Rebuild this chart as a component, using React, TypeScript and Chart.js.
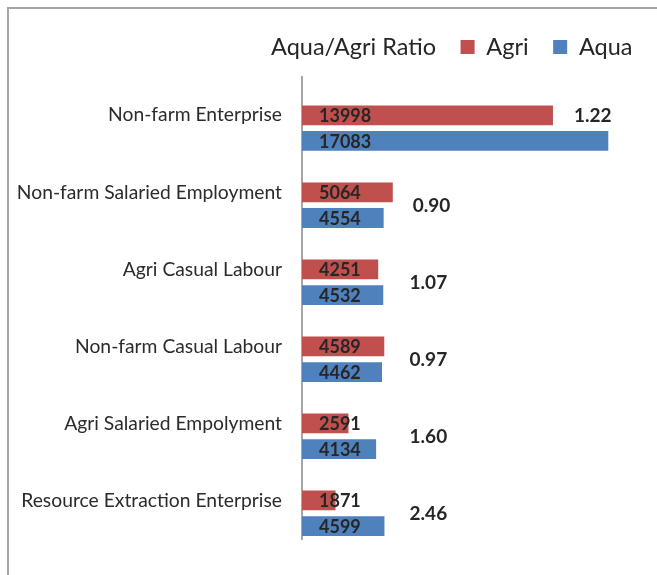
import React, { useEffect, useRef } from "react";
import { Chart, registerables } from "chart.js";

Chart.register(...registerables);

const categories = [
  "Non-farm Enterprise",
  "Non-farm Salaried Employment",
  "Agri Casual Labour",
  "Non-farm Casual Labour",
  "Agri Salaried Empolyment",
  "Resource Extraction Enterprise",
];
const seriesNames = ["Aqua/Agri Ratio", "Agri", "Aqua"];
const agriValues = [13998, 5064, 4251, 4589, 2591, 1871];
const aquaValues = [17083, 4554, 4532, 4462, 4134, 4599];
const ratioValues = [1.22, 0.9, 1.07, 0.97, 1.6, 2.46];

const FONT = "Lato, 'Open Sans', sans-serif";

const labelPlugin = {
  id: "barLabels",
  afterDatasetsDraw(chart: any) {
    const ctx = chart.ctx;
    const xScale = chart.scales.x;
    const area = chart.chartArea;
    const agriMeta = chart.getDatasetMeta(1);
    const aquaMeta = chart.getDatasetMeta(2);
    const x0 = xScale.getPixelForValue(0);
    const minLabelX = xScale.getPixelForValue(6000);
    ctx.save();
    ctx.fillStyle = "#262626";
    ctx.textBaseline = "middle";
    ctx.textAlign = "left";
    categories.forEach((_, i) => {
      const a = agriMeta.data[i];
      const q = aquaMeta.data[i];
      ctx.font = `bold 18px ${FONT}`;
      ctx.fillText(String(agriValues[i]), x0 + 17, a.y + 1);
      ctx.fillText(String(aquaValues[i]), x0 + 17, q.y + 1);
      ctx.font = `bold 19px ${FONT}`;
      const txt = ratioValues[i].toFixed(2);
      const w = ctx.measureText(txt).width;
      let x = Math.max(Math.max(a.x, q.x) + 20, minLabelX);
      let y = (a.y + q.y) / 2;
      if (x + w > area.right - 10) {
        x = a.x + 21;
        y = a.y;
      }
      ctx.fillText(txt, x, y + 1);
    });
    ctx.restore();
  },
};

export default function App() {
  const ref = useRef<HTMLCanvasElement | null>(null);
  useEffect(() => {
    document.body.style.overflow = "hidden";
    document.documentElement.style.overflow = "hidden";
    const chart = new Chart(ref.current as HTMLCanvasElement, {
      type: "bar",
      data: {
        labels: categories,
        datasets: [
          {
            label: seriesNames[0],
            data: ratioValues,
            backgroundColor: "rgba(0,0,0,0)",
            borderColor: "rgba(0,0,0,0)",
            borderWidth: 0,
          },
          {
            label: seriesNames[1],
            data: agriValues,
            backgroundColor: "#C0504D",
            borderWidth: 0,
          },
          {
            label: seriesNames[2],
            data: aquaValues,
            backgroundColor: "#4F81BD",
            borderWidth: 0,
          },
        ],
      },
      options: {
        indexAxis: "y",
        responsive: false,
        animation: false,
        layout: { padding: { top: 10.75, right: 0, left: 0, bottom: 36 } },
        datasets: { bar: { categoryPercentage: 1, barPercentage: 0.77 } } as any,
        scales: {
          x: {
            position: "top",
            display: true,
            min: 0,
            max: 19800,
            grid: { display: false, drawTicks: false },
            border: { display: false },
            ticks: { display: false },
            afterFit(s: any) {
              s.height = 8;
            },
          },
          y: {
            grid: { display: false, drawTicks: false },
            border: { display: true, color: "#a6a6a6", width: 2 },
            ticks: {
              padding: 20,
              color: "#2b2b2b",
              font: { family: FONT, size: 19.3 },
              autoSkip: false,
            },
            afterFit(s: any) {
              s.width = 302;
            },
          },
        },
        plugins: {
          legend: {
            position: "top",
            align: "end",
            labels: {
              boxWidth: 14,
              boxHeight: 14,
              padding: 24.5,
              color: "#262626",
              font: { family: FONT, size: 23.5 },
            },
          },
          tooltip: { enabled: false },
        },
      },
      plugins: [labelPlugin],
    });
    return () => chart.destroy();
  }, []);
  return (
    <>
      <div
        style={{
          position: "fixed",
          left: 7,
          top: 7,
          width: 700,
          height: 700,
          borderLeft: "2px solid #a6a6a6",
          borderTop: "2px solid #a6a6a6",
          pointerEvents: "none",
        }}
      />
      <canvas
        ref={ref}
        width={657}
        height={575}
        style={{ position: "fixed", left: 0, top: 0, width: 657, height: 575 }}
      />
    </>
  );
}
